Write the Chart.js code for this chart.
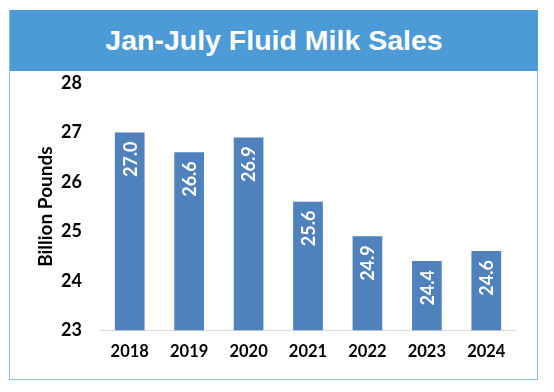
<!DOCTYPE html>
<html>
<head>
<meta charset="utf-8">
<script src="https://cdn.jsdelivr.net/npm/chart.js@4"></script>
<style>
  body { margin: 0; background: #fff; }
  #wrap { position: relative; width: 554px; height: 392px; }
  #box {
    position: absolute; left: 9px; top: 10px; width: 527px; height: 368px;
    border: 1.5px solid #8dbde6;
  }
  #title {
    position: absolute; left: 10px; top: 10px; width: 528px; height: 61px;
    background: #4c9bd6; color: #fff;
    font: bold 28.5px "Liberation Sans", Arial, sans-serif;
    display: flex; align-items: center; justify-content: center;
  }
  canvas { position: absolute; left: 0; top: 0; }
</style>
</head>
<body>
<div id="wrap">
  <div id="box"></div>
  <div id="title">Jan-July Fluid Milk Sales</div>
  <canvas id="chart" width="554" height="392"></canvas>
</div>
<script>
// chart data
const years = ['2018', '2019', '2020', '2021', '2022', '2023', '2024'];
const sales = [27.0, 26.6, 26.9, 25.6, 24.9, 24.4, 24.6];
const yTicks = [23, 24, 25, 26, 27, 28];

const labelFont = '"Lato", "Open Sans", sans-serif';

// vertical value labels inside the bars
const barLabels = {
    id: 'barLabels',
    afterDatasetsDraw(chart) {
        const ctx = chart.ctx;
        const meta = chart.getDatasetMeta(0);
        ctx.save();
        ctx.fillStyle = '#ffffff';
        ctx.font = 'bold 18px ' + labelFont;
        ctx.textAlign = 'right';
        ctx.textBaseline = 'middle';
        meta.data.forEach((bar, i) => {
            ctx.save();
            ctx.translate(bar.x, bar.y + 9);
            ctx.rotate(-Math.PI / 2);
            ctx.fillText(sales[i].toFixed(1), 0, 1);
            ctx.restore();
        });
        ctx.restore();
    }
};

new Chart(document.getElementById('chart'), {
    type: 'bar',
    data: {
        labels: years,
        datasets: [{
            data: sales,
            backgroundColor: '#4f81bd',
            categoryPercentage: 1,
            barPercentage: 0.5
        }]
    },
    options: {
        responsive: false,
        animation: false,
        layout: { padding: { left: 34, right: 38, top: 83, bottom: 18 } },
        scales: {
            x: {
                grid: { display: false, drawTicks: false },
                border: { display: true, color: '#d9d9d9', width: 1 },
                ticks: {
                    color: '#000',
                    padding: 12,
                    font: { family: labelFont, size: 16.5, weight: 'bold' }
                }
            },
            y: {
                min: 23,
                max: 28,
                afterBuildTicks: (scale) => {
                    scale.ticks = yTicks.map(v => ({ value: v }));
                },
                afterFit: (scale) => { scale.width = 66; },
                grid: { display: false, drawTicks: false },
                border: { display: false },
                ticks: {
                    color: '#000',
                    padding: 18,
                    font: { family: labelFont, size: 18, weight: 'bold' }
                },
                title: {
                    display: true,
                    text: 'Billion Pounds',
                    color: '#000',
                    padding: { top: 0, bottom: 8 },
                    font: { family: labelFont, size: 19, weight: 'bold' }
                }
            }
        },
        plugins: {
            legend: { display: false },
            tooltip: { enabled: false }
        }
    },
    plugins: [barLabels]
});
</script>
</body>
</html>
